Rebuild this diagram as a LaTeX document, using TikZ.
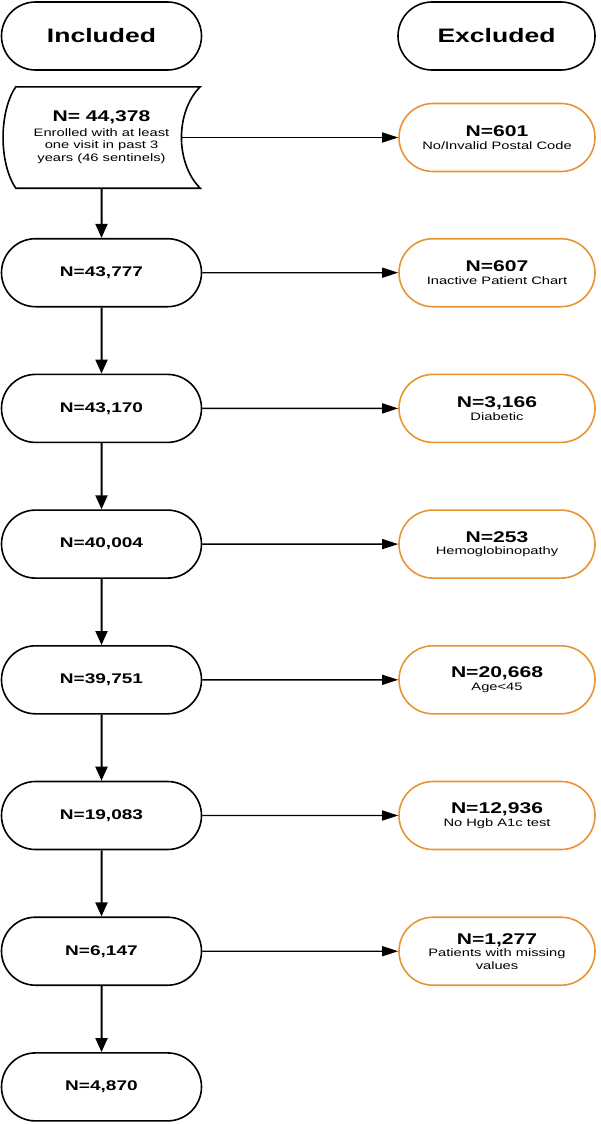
\documentclass[tikz,border=0pt]{standalone}
\usepackage{fontspec}
\setmainfont[FakeStretch = 1.36]{Liberation Sans}
\usetikzlibrary{shapes.misc, arrows.meta}
\definecolor{exorange}{RGB}{232,148,52}
\newcommand{\bignum}[1]{{\fontsize{15.5}{17}\selectfont\bfseries #1}}

\begin{document}
\begin{tikzpicture}[x = 1pt, y = -1pt,
    stadium/.style = {draw, rounded rectangle, line width = 1.6pt, minimum width = 200pt,
                      minimum height = 68pt, inner sep = 0pt, align = center},
    head/.style    = {stadium, font = \fontsize{19.5}{22}\selectfont\bfseries},
    kept/.style    = {stadium, font = \fontsize{14}{16}\selectfont\bfseries},
    dropped/.style = {stadium, draw = exorange, minimum width = 196pt,
                      font = \fontsize{10.8}{12.5}\selectfont},
    down/.style    = {-{Triangle[length = 14pt, width = 12pt]}, line width = 2pt},
    side/.style    = {-{Triangle[length = 16pt, width = 10pt]}, line width = 1.4pt}]
    \useasboundingbox (0, 0) rectangle (600, 1124);

    % headers
    \node (inc) at (101.5, 36) [head] {Included};
    \node (exc) at (496.5, 36) [head, minimum width = 197pt] {Excluded};

    % first box: stored data shape drawn round the node
    \node (n0) at (101.5, 137.5) [minimum width = 197pt, minimum height = 101pt, inner sep = 0pt,
                                  align = center, font = \fontsize{10.8}{12.8}\selectfont]
          {\bignum{N= 44,378}\\[1.5pt]Enrolled with at least\\one visit in past 3\\years (46 sentinels)};
    \draw [line width = 1.6pt] ([xshift = 13pt]n0.north west) -- (n0.north east)
          .. controls +(-25, 25) and +(-25, -25) .. (n0.south east)
          -- ([xshift = 13pt]n0.south west)
          .. controls +(-17, -25) and +(-17, 25) .. ([xshift = 13pt]n0.north west) -- cycle;
    \coordinate (n0c) at ([xshift = -18.75pt]n0.east);

    % included column
    \node (n1) at (101.5, 272.7) [kept] {N=43,777};
    \node (n2) at (101.5, 408.4) [kept] {N=43,170};
    \node (n3) at (101.5, 544.1) [kept] {N=40,004};
    \node (n4) at (101.5, 679.8) [kept] {N=39,751};
    \node (n5) at (101.5, 815.5) [kept] {N=19,083};
    \node (n6) at (101.5, 951.2) [kept] {N=6,147};
    \node (n7) at (101.5, 1086.9) [kept] {N=4,870};

    % excluded column
    \node (x0) at (497, 137.5) [dropped] {\bignum{N=601}\\No/Invalid Postal Code};
    \node (x1) at (497, 272.7) [dropped] {\bignum{N=607}\\Inactive Patient Chart};
    \node (x2) at (497, 408.4) [dropped] {\bignum{N=3,166}\\Diabetic};
    \node (x3) at (497, 544.1) [dropped] {\bignum{N=253}\\Hemoglobinopathy};
    \node (x4) at (497, 679.8) [dropped] {\bignum{N=20,668}\\Age<45};
    \node (x5) at (497, 815.5) [dropped] {\bignum{N=12,936}\\No Hgb A1c test};
    \node (x6) at (497, 951.2) [dropped] {\bignum{N=1,277}\\Patients with missing\\values};

    \draw [down] (n0) -- (n1);
    \draw [down] (n1) -- (n2);
    \draw [down] (n2) -- (n3);
    \draw [down] (n3) -- (n4);
    \draw [down] (n4) -- (n5);
    \draw [down] (n5) -- (n6);
    \draw [down] (n6) -- (n7);

    \draw [side] (n0c) -- (x0);
    \draw [side] (n1) -- (x1);
    \draw [side] (n2) -- (x2);
    \draw [side] (n3) -- (x3);
    \draw [side] (n4) -- (x4);
    \draw [side] (n5) -- (x5);
    \draw [side] (n6) -- (x6);
  \end{tikzpicture}
\end{document}
